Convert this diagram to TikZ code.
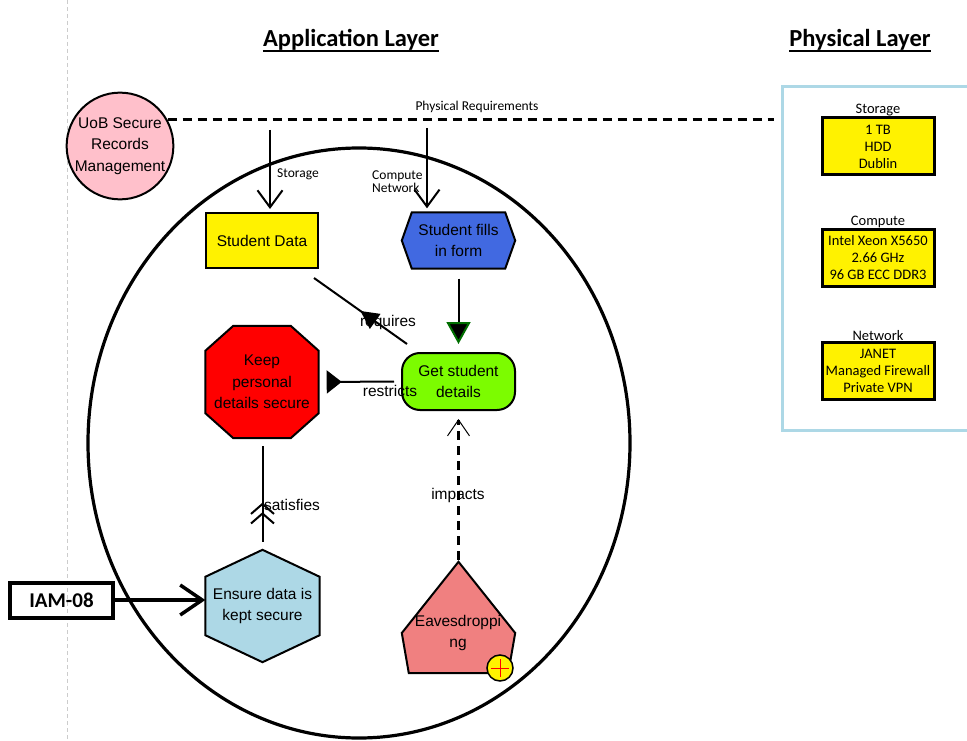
\documentclass[tikz,border=0pt]{standalone}
\usepackage{fontspec}
\setmainfont{Liberation Sans}
\newfontfamily\carl{Carlito}
\usetikzlibrary{arrows.meta,shapes.geometric,decorations.markings,backgrounds}
\definecolor{pinkc}{RGB}{255,192,203}
\definecolor{royal}{RGB}{65,105,225}
\definecolor{lgreen}{RGB}{124,252,0}
\definecolor{lblue}{RGB}{173,216,230}
\definecolor{lcoral}{RGB}{240,128,128}
\definecolor{dgreen}{RGB}{0,110,0}
\tikzset{
  base/.style={font=\fontsize{15.5}{21.5}\selectfont, align=center, inner sep=0},
  nd/.style={base, draw, line width=2},
  conn/.style={line width=2},
  small/.style={font=\carl\fontsize{13.5}{13}\selectfont, inner sep=0},
  head/.style={font=\carl\bfseries\fontsize{24.5}{28}\selectfont, inner sep=0},
  physbox/.style={draw, line width=3, fill=yellow, minimum width=112, minimum height=57,
    inner sep=0, font=\carl\fontsize{14.5}{17}\selectfont, align=center},
  plabel/.style={font=\carl\fontsize{14.5}{17}\selectfont, inner sep=1, label distance=-1},
}
\begin{document}
\begin{tikzpicture}[x=1pt,y=-1pt]
\useasboundingbox (0,0) rectangle (967,741);
% grey guide
\draw[gray!40, line width=0.8, dash pattern=on 4pt off 3pt] (67,0) -- (67,741);
% headers
\node[head] (apph) at (351,40) {Application Layer};
\draw[line width=1.8] ([shift={(0,4)}]apph.base west) -- ([shift={(0,4)}]apph.base east);
\node[head] (physh) at (860,40) {Physical Layer};
\draw[line width=1.8] ([shift={(0,4)}]physh.base west) -- ([shift={(0,4)}]physh.base east);
% big ellipse
\draw[line width=3.2] (359,443) ellipse [x radius=271, y radius=295];
% UoB
\node[nd, circle, fill=pinkc, minimum size=104] (uob) at (120,146) {UoB Secure\\Records\\Management};
% physical layer box
\node[draw=lblue, line width=3, minimum width=200, minimum height=343, inner sep=0] (phys) at (882,258.5) {};
\draw[line width=3, dash pattern=on 9pt off 6pt, shorten >=7] (uob.29) -- (uob.29 -| phys.west);
\node[small] (preq) at (477,107) {Physical Requirements};
% physical boxes
\node[physbox, label={[plabel]above:Storage}] (stor) at (878,146.5) {1 TB\\HDD\\Dublin};
\node[physbox, label={[plabel]above:Compute}] (comp) at (878,258) {Intel Xeon X5650\\2.66 GHz\\96 GB ECC DDR3};
\node[physbox, label={[plabel]above:Network}] (netw) at (878,370.5) {JANET\\Managed Firewall\\Private VPN};
% application nodes
\node[nd, fill=yellow, minimum width=112, minimum height=55] (sdata) at (262,240.5) {Student Data};
\node[base, minimum width=113, minimum height=56] (fills) at (458.5,240.5) {Student fills\\in form};
\node[nd, rectangle, rounded corners=18, fill=lgreen, minimum width=113, minimum height=57] (gsd) at (458.5,381.5) {Get student\\details};
\node[base, minimum width=113, minimum height=112] (keep) at (262,382) {Keep\\personal\\details secure};
\node[base, minimum width=114, minimum height=112] (ensure) at (262.5,606) {Ensure data is\\kept secure};
\node[base, minimum width=113, minimum height=111] (eaves) at (458.5,617.5) {};
\node[base] (eavestxt) at (458,633) {Eavesdroppi\\ng};
\node[draw, line width=4, minimum width=102.5, minimum height=35, inner sep=0,
  font=\carl\bfseries\fontsize{21}{24}\selectfont] (iam) at (61.5,600) {IAM-08};
\node[circle, draw, line width=1.5, fill=yellow, minimum size=26, inner sep=0] (plus) at (500,668) {};
\draw[red, line width=1] ([shift={(-9,0)}]plus.center) -- ([shift={(9,0)}]plus.center);
\draw[red, line width=1] ([shift={(0,-9)}]plus.center) -- ([shift={(0,9)}]plus.center);
% polygons behind text
\begin{scope}[on background layer]
\filldraw[line width=2, fill=royal] (fills.west) -- ([shift={(10,0)}]fills.north west) -- ([shift={(-10,0)}]fills.north east) -- (fills.east) -- ([shift={(-10,0)}]fills.south east) -- ([shift={(10,0)}]fills.south west) -- cycle;
\filldraw[line width=2, fill=red] ([shift={(28,0)}]keep.north west) -- ([shift={(-28,0)}]keep.north east) -- ([shift={(0,25)}]keep.north east) -- ([shift={(0,-25)}]keep.south east) -- ([shift={(-28,0)}]keep.south east) -- ([shift={(28,0)}]keep.south west) -- ([shift={(0,-25)}]keep.south west) -- ([shift={(0,25)}]keep.north west) -- cycle;
\filldraw[line width=2, fill=lblue] (ensure.north) -- ([shift={(0,27)}]ensure.north east) -- ([shift={(0,-27)}]ensure.south east) -- (ensure.south) -- ([shift={(0,-27)}]ensure.south west) -- ([shift={(0,27)}]ensure.north west) -- cycle;
\filldraw[line width=2, fill=lcoral] (eaves.north) -- ([shift={(0,15.5)}]eaves.east) -- ([shift={(-7,0)}]eaves.south east) -- ([shift={(7,0)}]eaves.south west) -- ([shift={(0,15.5)}]eaves.west) -- cycle;
\end{scope}
% labels
\node[small, anchor=west] (stglbl) at (277,174) {Storage};
\node[small, anchor=west, align=left] (cnlbl) at (372,181.5) {Compute\\Network};
\node[base] (reqlbl) at (388,322) {requires};
\node[base] (reslbl) at (390,391) {restricts};
\node[base] (satlbl) at (292,505) {satisfies};
\node[base] (implbl) at (458,495) {impacts};
% connectors
\coordinate (stg) at (270,130);
\coordinate (cmp) at (427,128);
\draw[conn, -{Straight Barb[length=17pt,width=25pt]}, shorten >=3] (stg) -- (stg |- sdata.north);
\draw[conn, -{Straight Barb[length=17pt,width=25pt]}, shorten >=4] (cmp) -- (cmp |- fills.north);
\draw[conn, -{Triangle[length=22pt,width=24pt,color=dgreen,fill=black]}, shorten <=10, shorten >=8] (fills.south) -- (gsd.north);
\draw[conn, postaction={decorate}, decoration={markings, mark=at position 0.5 with {\arrow{Triangle[length=18pt,width=18pt]}}}]
  ([shift={(6,-8)}]gsd.north west) -- ([shift={(-5,9)}]sdata.south east);
\draw[conn, -{Triangle[reversed,length=15pt,width=23pt]}, shorten <=7, shorten >=8] (gsd.west) -- (keep.east);
\draw[conn, postaction={decorate}, decoration={markings,
   mark=at position 0.31 with {\arrow{Straight Barb[length=10pt,width=23pt]}},
   mark=at position 0.41 with {\arrow{Straight Barb[length=10pt,width=23pt]}}}]
  ([shift={(0,-8)}]ensure.north) -- ([shift={(0,8)}]ensure.north |- keep.south);
\draw[line width=2.5, dash pattern=on 9pt off 6pt, -{Straight Barb[length=16pt,width=22pt,line width=1pt]}, shorten <=2, shorten >=8] (eaves.north) -- (gsd.south);
\draw[line width=3.5, -{Straight Barb[length=22pt,width=30pt]}] (iam.east) -- (iam.east -| ensure.west);
\end{tikzpicture}
\end{document}
